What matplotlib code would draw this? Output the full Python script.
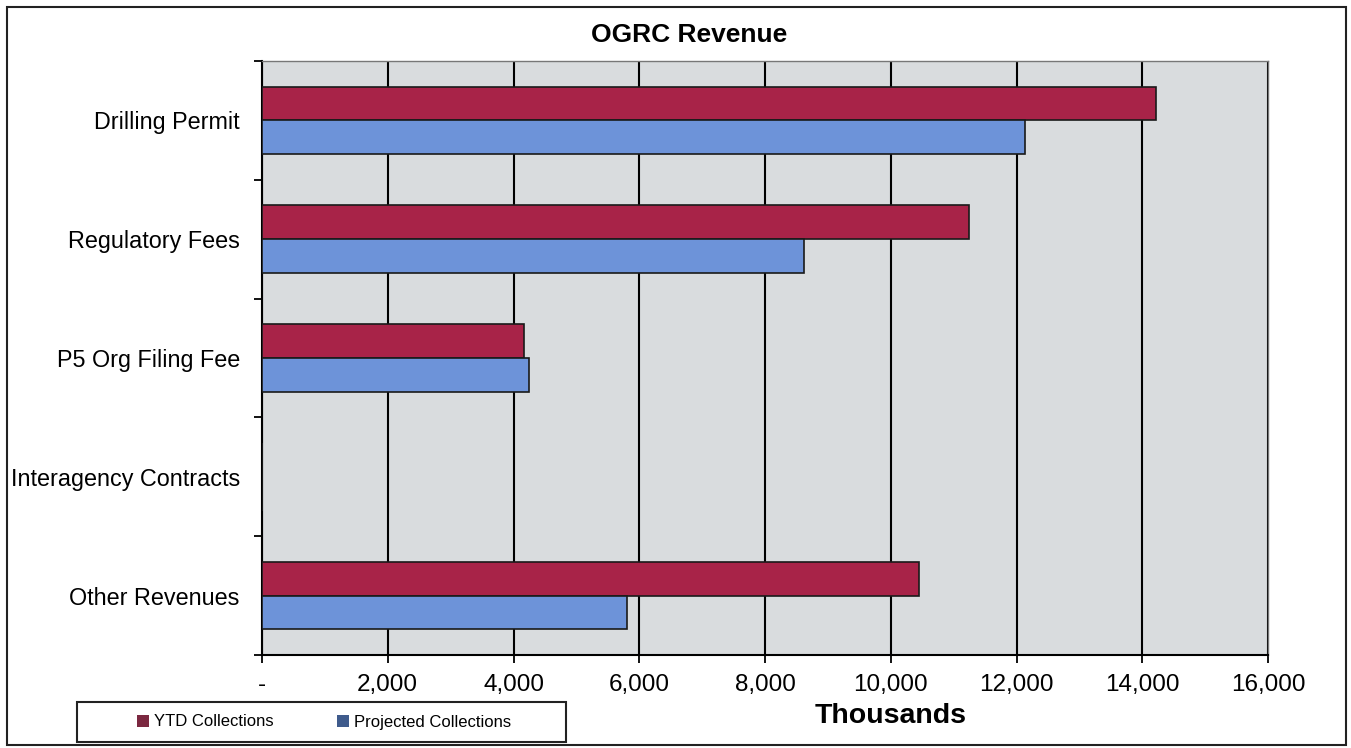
import matplotlib.pyplot as plt
from matplotlib.patches import Rectangle, Patch
from matplotlib.ticker import FuncFormatter

plt.rcParams['font.family'] = ['Liberation Sans', 'DejaVu Sans']

categories = ['Drilling Permit', 'Regulatory Fees', 'P5 Org Filing Fee',
              'Interagency Contracts', 'Other Revenues']
ytd = [14220, 11240, 4160, 0, 10450]
projected = [12140, 8620, 4240, 0, 5800]
xticks = list(range(0, 16001, 2000))

red = '#a82348'
blue = '#6d93d9'

fig = plt.figure(figsize=(13.51, 7.48), dpi=100)
# outer border of the chart
fig.patches.append(Rectangle((7 / 1351, 3 / 748), 1339 / 1351, 738 / 748,
                             transform=fig.transFigure, fill=False,
                             edgecolor='#222222', linewidth=1.5))

ax = fig.add_axes([262 / 1351, 1 - 655 / 748, 1006 / 1351, 594 / 748])
ax.set_facecolor('#d9dcde')

h = 0.285
pos = list(range(len(categories)))
ax.barh([p - h / 2 for p in pos], ytd, height=h, color=red,
        edgecolor='#1a1a1a', linewidth=1.2, zorder=3)
ax.barh([p + h / 2 for p in pos], projected, height=h, color=blue,
        edgecolor='#1a1a1a', linewidth=1.2, zorder=3)

ax.set_xlim(0, 16000)
ax.set_ylim(len(categories) - 0.5, -0.5)

ax.set_xticks(xticks)
ax.xaxis.set_major_formatter(FuncFormatter(lambda v, p: '-' if v == 0 else f'{int(v):,}'))
ax.tick_params(axis='x', length=6, width=1.3, labelsize=17.5, pad=8, color='black')
ax.grid(axis='x', color='black', linewidth=1.5, zorder=1)

ax.set_yticks(pos)
ax.set_yticklabels(categories)
ax.set_yticks([p - 0.5 for p in pos] + [len(pos) - 0.5], minor=True)
ax.tick_params(axis='y', which='major', length=0, labelsize=16.8, pad=16)
ax.tick_params(axis='y', which='minor', length=6, width=1.3, color='black')

for s in ['left', 'bottom']:
    ax.spines[s].set_color('black')
    ax.spines[s].set_linewidth(1.5)
for s in ['top', 'right']:
    ax.spines[s].set_color('#777777')
    ax.spines[s].set_linewidth(1.0)

fig.text(689 / 1351, 1 - 35 / 748, 'OGRC Revenue', ha='center', va='center',
         fontsize=19, fontweight='bold')
fig.text(891 / 1351, 1 - 716 / 748, 'Thousands', ha='center', va='center',
         fontsize=20.5, fontweight='bold')

# legend frame drawn separately so its width matches the original box
fig.patches.append(Rectangle((77 / 1351, 1 - 742 / 748), 489 / 1351, 40 / 748,
                             transform=fig.transFigure, facecolor='white',
                             edgecolor='#222222', linewidth=1.5))
handles = [Patch(facecolor='#7b2840', edgecolor='none', label='YTD Collections'),
           Patch(facecolor='#3f5b8c', edgecolor='none', label='Projected Collections')]
fig.legend(handles=handles, loc='center', ncol=2,
           bbox_to_anchor=(324 / 1351, 1 - 722 / 748), fontsize=12,
           handlelength=0.7, handleheight=0.7, handletextpad=0.3,
           columnspacing=3.8, frameon=False)

fig.savefig('out.png', dpi=100)
